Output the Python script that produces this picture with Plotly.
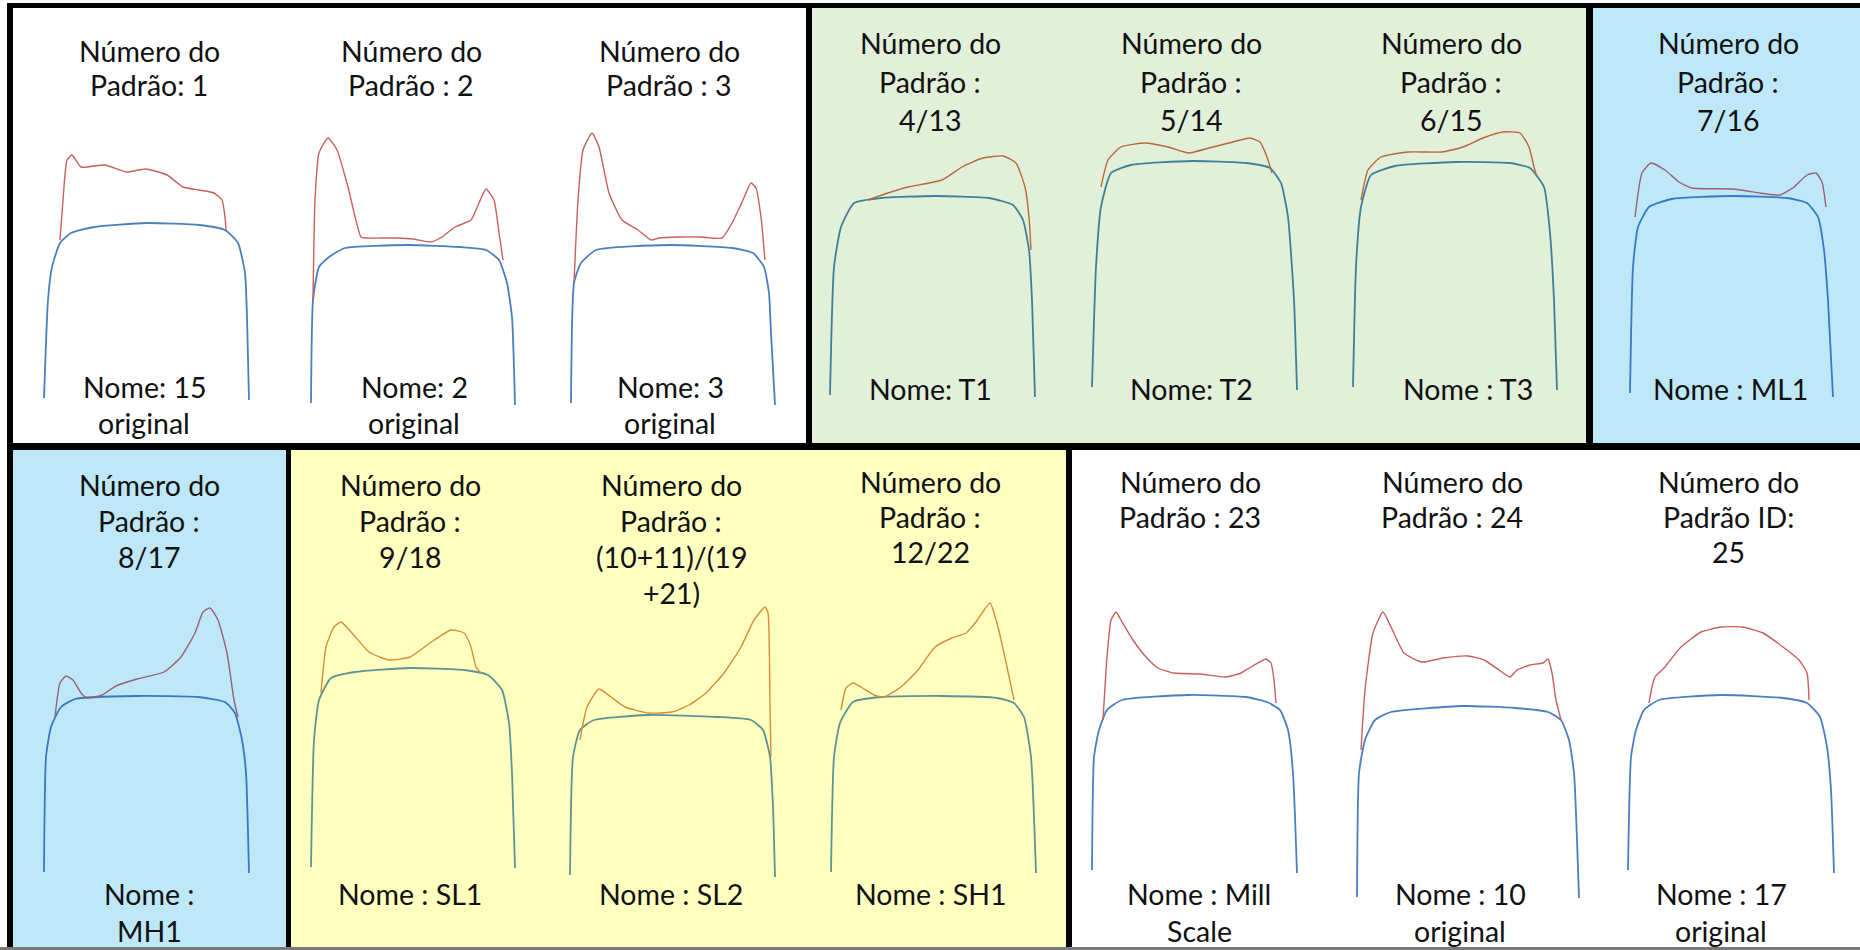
import plotly.graph_objects as go

W, H = 1860, 950

# ---------------- data: profiles ----------------
# x = position across the cell, h = height above the base of the profile
c01_blue_x = [31, 35, 39, 47, 58, 81, 133, 186, 212, 225, 232, 234, 236]
c01_blue_h = [2, 100, 133, 157, 167, 173, 177, 175, 170, 157, 127, 83, 0]
c01_red_x = [47, 50, 54, 59, 68, 92, 113, 133, 154, 170, 186, 201, 209, 212, 213]
c01_red_h = [160, 200, 240, 245, 233, 235, 228, 231, 225, 213, 210, 207, 200, 183, 170]

c02_blue_x = [31, 33, 39, 49, 65, 128, 180, 206, 219, 227, 232, 235]
c02_blue_h = [-3, 100, 133, 143, 152, 155, 153, 150, 140, 117, 83, -5]
c02_red_x = [33, 35, 39, 48, 57, 68, 81, 86, 117, 133, 151, 162, 175, 191, 199, 206, 214, 219, 223]
c02_red_h = [100, 200, 247, 262, 250, 213, 163, 162, 162, 161, 158, 163, 173, 180, 197, 211, 200, 167, 140]

c03_blue_x = [31, 34, 41, 56, 129, 192, 213, 224, 229, 231, 235]
c03_blue_h = [-3, 117, 137, 150, 155, 152, 147, 133, 107, 67, -5]
c03_red_x = [34, 38, 43, 52, 59, 69, 82, 98, 111, 119, 140, 161, 182, 192, 203, 211, 216, 221, 225]
c03_red_h = [117, 200, 250, 267, 253, 207, 180, 170, 160, 162, 163, 163, 162, 177, 200, 217, 212, 183, 140]

c04_blue_x = [18, 22, 29, 42, 69, 123, 177, 201, 211, 217, 220, 223]
c04_blue_h = [5, 133, 173, 197, 202, 204, 202, 195, 180, 150, 100, 3]
c04_red_x = [56, 76, 96, 130, 150, 171, 191, 204, 213, 217, 219]
c04_red_h = [200, 207, 213, 220, 233, 242, 244, 237, 213, 183, 150]

c05_blue_x = [22, 26, 31, 41, 61, 122, 176, 200, 211, 218, 224, 227]
c05_blue_h = [13, 133, 193, 227, 235, 239, 237, 232, 217, 183, 100, 10]
c05_red_x = [31, 38, 51, 75, 98, 119, 139, 163, 180, 190, 197, 202]
c05_red_h = [213, 240, 253, 257, 253, 247, 252, 258, 262, 258, 243, 227]

c06_blue_x = [23, 26, 31, 41, 65, 126, 180, 200, 214, 220, 224, 227]
c06_blue_h = [13, 133, 193, 225, 234, 238, 237, 232, 213, 167, 100, 10]
c06_red_x = [31, 38, 51, 78, 112, 133, 153, 173, 190, 199, 204, 207]
c06_red_h = [200, 230, 243, 248, 248, 253, 262, 268, 267, 253, 233, 223]

c07_blue_x = [37, 40, 45, 56, 79, 140, 194, 214, 225, 231, 235, 240]
c07_blue_h = [7, 133, 173, 193, 201, 204, 202, 197, 183, 150, 100, 3]
c07_red_x = [42, 49, 58, 72, 86, 99, 140, 167, 187, 201, 214, 223, 229, 233]
c07_red_h = [183, 227, 237, 230, 218, 212, 211, 207, 205, 213, 225, 227, 218, 193]

c08_blue_x = [31, 33, 38, 48, 62, 124, 185, 212, 222, 229, 233, 236]
c08_blue_h = [3, 118, 148, 168, 176, 179, 178, 173, 162, 135, 102, 2]
c08_red_x = [42, 47, 53, 60, 68, 74, 89, 103, 124, 151, 168, 182, 190, 197, 205, 214, 221, 225]
c08_red_h = [158, 192, 199, 195, 182, 177, 180, 189, 196, 203, 218, 242, 263, 267, 255, 222, 175, 158]

c09_blue_x = [20, 23, 28, 40, 64, 119, 173, 197, 211, 218, 221, 224]
c09_blue_h = [8, 135, 175, 197, 203, 207, 205, 200, 185, 152, 102, 7]
c09_red_x = [30, 35, 43, 50, 61, 78, 98, 119, 139, 160, 173, 180, 185, 190]
c09_red_h = [182, 228, 248, 253, 242, 223, 215, 218, 232, 245, 242, 228, 208, 202]

c10_blue_x = [30, 33, 40, 54, 108, 177, 211, 223, 230, 233, 235]
c10_blue_h = [0, 118, 145, 155, 160, 158, 155, 145, 118, 68, -2]
c10_red_x = [40, 47, 59, 71, 85, 108, 132, 149, 166, 184, 201, 214, 225, 228, 230, 231]
c10_red_h = [135, 168, 186, 178, 168, 162, 163, 170, 182, 202, 228, 255, 268, 262, 168, 118]

c11_blue_x = [31, 34, 40, 53, 81, 142, 197, 214, 224, 231, 236]
c11_blue_h = [3, 118, 152, 173, 178, 179, 177, 172, 158, 118, 2]
c11_red_x = [41, 46, 53, 61, 74, 84, 101, 118, 135, 152, 166, 176, 190, 198, 207, 214]
c11_red_h = [165, 187, 192, 188, 180, 178, 188, 205, 228, 237, 242, 253, 272, 248, 208, 175]

c12_blue_x = [20, 22, 27, 35, 50, 117, 174, 195, 208, 216, 221, 225]
c12_blue_h = [5, 118, 145, 165, 175, 180, 178, 173, 165, 145, 102, 2]
c12_red_x = [31, 35, 39, 44, 50, 61, 74, 86, 102, 128, 154, 169, 179, 194, 199, 202, 204]
c12_red_h = [155, 218, 255, 263, 253, 235, 218, 207, 202, 201, 198, 202, 208, 216, 212, 195, 172]

c13_blue_x = [27, 29, 35, 45, 61, 133, 185, 218, 231, 239, 244, 249]
c13_blue_h = [-22, 102, 135, 155, 163, 169, 167, 163, 155, 135, 102, -23]
c13_red_x = [31, 35, 43, 53, 61, 74, 92, 113, 138, 154, 169, 180, 187, 200, 213, 218, 222, 226, 231]
c13_red_h = [125, 185, 242, 263, 248, 222, 213, 217, 219, 215, 205, 198, 205, 210, 212, 216, 202, 175, 155]

c14_blue_x = [38, 41, 46, 54, 69, 131, 193, 217, 230, 237, 241, 244]
c14_blue_h = [5, 118, 145, 165, 175, 180, 177, 172, 158, 128, 85, 2]
c14_red_x = [59, 62, 65, 75, 90, 111, 131, 152, 173, 193, 209, 217, 219]
c14_red_h = [172, 188, 198, 208, 227, 243, 248, 248, 242, 228, 215, 202, 175]

# ---------------- texts ----------------
header_texts = [
    ["Número do", "Padrão: 1"],
    ["Número do", "Padrão : 2"],
    ["Número do", "Padrão : 3"],
    ["Número do", "Padrão :", "4/13"],
    ["Número do", "Padrão :", "5/14"],
    ["Número do", "Padrão :", "6/15"],
    ["Número do", "Padrão :", "7/16"],
    ["Número do", "Padrão :", "8/17"],
    ["Número do", "Padrão :", "9/18"],
    ["Número do", "Padrão :", "(10+11)/(19", "+21)"],
    ["Número do", "Padrão :", "12/22"],
    ["Número do", "Padrão : 23"],
    ["Número do", "Padrão : 24"],
    ["Número do", "Padrão ID:", "25"],
]
footer_texts = [
    ["Nome: 15", "original"],
    ["Nome: 2", "original"],
    ["Nome: 3", "original"],
    ["Nome: T1"],
    ["Nome: T2"],
    ["Nome : T3"],
    ["Nome : ML1"],
    ["Nome :", "MH1"],
    ["Nome : SL1"],
    ["Nome : SL2"],
    ["Nome : SH1"],
    ["Nome : Mill", "Scale"],
    ["Nome : 10", "original"],
    ["Nome : 17", "original"],
]

blue_series = [c01_blue_x, c02_blue_x, c03_blue_x, c04_blue_x, c05_blue_x, c06_blue_x, c07_blue_x,
               c08_blue_x, c09_blue_x, c10_blue_x, c11_blue_x, c12_blue_x, c13_blue_x, c14_blue_x]
blue_vals = [c01_blue_h, c02_blue_h, c03_blue_h, c04_blue_h, c05_blue_h, c06_blue_h, c07_blue_h,
             c08_blue_h, c09_blue_h, c10_blue_h, c11_blue_h, c12_blue_h, c13_blue_h, c14_blue_h]
red_series = [c01_red_x, c02_red_x, c03_red_x, c04_red_x, c05_red_x, c06_red_x, c07_red_x,
              c08_red_x, c09_red_x, c10_red_x, c11_red_x, c12_red_x, c13_red_x, c14_red_x]
red_vals = [c01_red_h, c02_red_h, c03_red_h, c04_red_h, c05_red_h, c06_red_h, c07_red_h,
            c08_red_h, c09_red_h, c10_red_h, c11_red_h, c12_red_h, c13_red_h, c14_red_h]

# ---------------- layout / style ----------------
GREEN = "#E2EFD9"
LBLUE = "#BEE8F8"
YELLOW = "#FFFFC0"

# cell pixel extents (left, right) and row of each cell
cell_lr = [(13, 280), (280, 540), (540, 806), (812, 1070), (1070, 1330), (1330, 1586), (1593, 1860),
           (13, 286), (291, 540), (540, 800), (800, 1066), (1072, 1330), (1330, 1590), (1590, 1860)]
cell_row = [0] * 7 + [1] * 7
row_base = [400, 875]          # pixel y of height 0
H_MIN, H_MAX = -30, 300

# per-panel line colours (as they appear blended over the panel fill)
style_white = dict(red="#C95F5B", blue="#4A7FC1")
style_green = dict(red="#B8693A", blue="#3F8099")
style_lblue = dict(red="#9A5F78", blue="#3878C4")
style_yellow = dict(red="#D98B3A", blue="#5E9393")
cell_style = [style_white] * 3 + [style_green] * 3 + [style_lblue] + [style_lblue] + [style_yellow] * 3 + [style_white] * 3

header_x = [149, 411, 669, 930, 1191, 1451, 1728, 149, 410, 671, 930, 1190, 1452, 1728]
footer_x = [144, 414, 670, 930, 1191, 1468, 1730, 149, 410, 671, 930, 1199, 1460, 1721]
header_y0 = [50.7] * 3 + [43.5] * 4 + [484.5] * 3 + [481.5] * 4
header_step = [34.5] * 3 + [38] * 4 + [36] * 3 + [35] * 4
footer_y0 = [386.5] * 3 + [389.5] * 4 + [894] * 7
footer_step = [36.5] * 14

FONT = "Lato, 'Open Sans', sans-serif"
FSIZE = 28.5

fig = go.Figure()
annotations = []
for i in range(14):
    n = i + 1
    xa = "x" if n == 1 else f"x{n}"
    ya = "y" if n == 1 else f"y{n}"
    left, right = cell_lr[i]
    base = row_base[cell_row[i]]
    st = cell_style[i]
    fig.add_trace(go.Scatter(x=blue_series[i], y=blue_vals[i], mode="lines",
                             line=dict(color=st["blue"], width=1.8, shape="spline", smoothing=0.5),
                             xaxis=xa, yaxis=ya, hoverinfo="skip", showlegend=False))
    fig.add_trace(go.Scatter(x=red_series[i], y=red_vals[i], mode="lines",
                             line=dict(color=st["red"], width=1.4, shape="spline", smoothing=0.5),
                             xaxis=xa, yaxis=ya, hoverinfo="skip", showlegend=False))
    y_top = base - H_MAX
    y_bot = base - H_MIN
    xkey = "xaxis" if n == 1 else f"xaxis{n}"
    ykey = "yaxis" if n == 1 else f"yaxis{n}"
    fig.update_layout({
        xkey: dict(domain=[left / W, right / W], range=[0, right - left], visible=False,
                   anchor=ya, fixedrange=True),
        ykey: dict(domain=[1 - y_bot / H, 1 - y_top / H], range=[H_MIN, H_MAX], visible=False,
                   anchor=xa, fixedrange=True),
    })
    for k, t in enumerate(header_texts[i]):
        annotations.append(dict(text=t, x=header_x[i] / W, y=1 - (header_y0[i] + k * header_step[i]) / H,
                                xref="paper", yref="paper", showarrow=False, xanchor="center",
                                yanchor="middle", font=dict(family=FONT, size=FSIZE, color="#111111")))
    for k, t in enumerate(footer_texts[i]):
        annotations.append(dict(text=t, x=footer_x[i] / W, y=1 - (footer_y0[i] + k * footer_step[i]) / H,
                                xref="paper", yref="paper", showarrow=False, xanchor="center",
                                yanchor="middle", font=dict(family=FONT, size=FSIZE, color="#111111")))

# panel fills and black frame (pixel extents)
panel_fills = [
    (812, 8, 1586, 443, GREEN),
    (1593, 8, 1860, 443, LBLUE),
    (13, 450, 286, 947, LBLUE),
    (291, 450, 1066, 947, YELLOW),
]
frame_bars = [
    (7, 3, 1860, 8),
    (7, 3, 13, 950),
    (7, 443, 1860, 450),
    (806, 3, 812, 450),
    (1586, 3, 1593, 450),
    (286, 443, 291, 950),
    (1066, 443, 1072, 950),
]
shapes = []
for x0, y0, x1, y1, c in panel_fills:
    shapes.append(dict(type="rect", xref="paper", yref="paper", x0=x0 / W, x1=x1 / W,
                       y0=1 - y1 / H, y1=1 - y0 / H, fillcolor=c, line=dict(width=0), layer="below"))
for x0, y0, x1, y1 in frame_bars:
    shapes.append(dict(type="rect", xref="paper", yref="paper", x0=x0 / W, x1=x1 / W,
                       y0=1 - y1 / H, y1=1 - y0 / H, fillcolor="#000000", line=dict(width=0), layer="above"))
shapes.append(dict(type="rect", xref="paper", yref="paper", x0=0, x1=1, y0=0, y1=3 / H,
                   fillcolor="#7a7a7a", line=dict(width=0), layer="above"))

fig.update_layout(width=W, height=H, margin=dict(l=0, r=0, t=0, b=0),
                  paper_bgcolor="white", plot_bgcolor="rgba(0,0,0,0)",
                  shapes=shapes, annotations=annotations, showlegend=False)

fig.write_html("out.html", config=dict(displayModeBar=False),
               post_script="document.body.style.margin='0';document.body.style.overflow='hidden';")
